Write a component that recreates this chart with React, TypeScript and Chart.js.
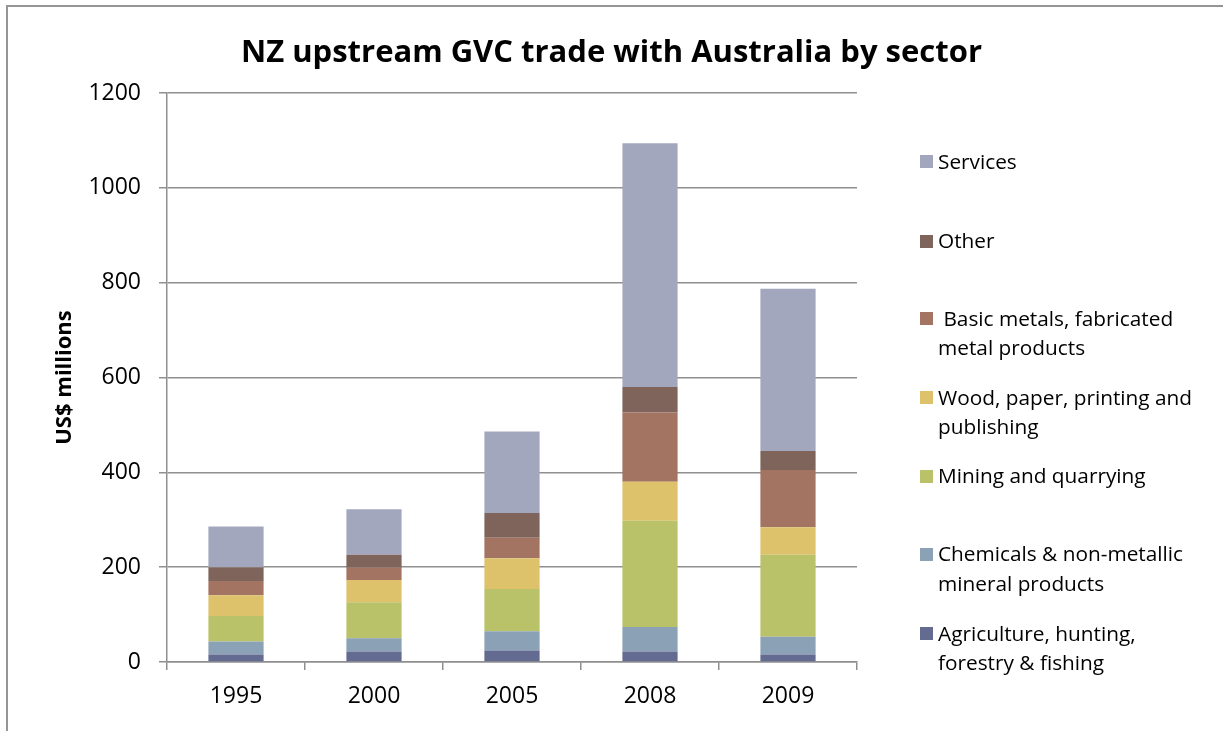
import React, { useEffect, useRef } from "react";
import { Chart, registerables } from "chart.js";

Chart.register(...registerables);

const years = ["1995", "2000", "2005", "2008", "2009"];

const agriculture = [16, 22, 24, 22, 16];
const chemicals = [27, 28, 41, 52, 37];
const mining = [54, 76, 89, 224, 173];
const wood = [44, 47, 65, 82, 58];
const metals = [30, 26, 43, 146, 121];
const other = [29, 27, 52, 54, 40];
const services = [86, 96, 172, 514, 342];

const seriesNames = [
  "Agriculture, hunting, forestry & fishing",
  "Chemicals & non-metallic mineral products",
  "Mining and quarrying",
  "Wood, paper, printing and publishing",
  " Basic metals, fabricated metal products",
  "Other",
  "Services",
];
const seriesValues = [agriculture, chemicals, mining, wood, metals, other, services];
const seriesColors = ["#636b90", "#8ba2b6", "#b9c169", "#dec26b", "#a37462", "#7e645a", "#a3a7be"];

const yTicks = [0, 200, 400, 600, 800, 1000, 1200];

// legend layout (top to bottom), lines of text per item
const legendItems = [
  { idx: 6, lines: ["Services"], y: 161.5 },
  { idx: 5, lines: ["Other"], y: 241 },
  { idx: 4, lines: ["\u00a0Basic metals, fabricated", "metal products"], y: 318.5 },
  { idx: 3, lines: ["Wood, paper, printing and", "publishing"], y: 397.5 },
  { idx: 2, lines: ["Mining and quarrying"], y: 476 },
  { idx: 1, lines: ["Chemicals & non-metallic", "mineral products"], y: 554 },
  { idx: 0, lines: ["Agriculture, hunting,", "forestry & fishing"], y: 633.5 },
];

const FONT = "'Open Sans', 'DejaVu Sans', sans-serif";

export default function App() {
  const canvasRef = useRef<HTMLCanvasElement | null>(null);

  useEffect(() => {
    const canvas = canvasRef.current;
    if (!canvas) return;
    const chart = new Chart(canvas, {
      type: "bar",
      data: {
        labels: years,
        datasets: seriesValues.map((vals, i) => ({
          label: seriesNames[i],
          data: vals,
          backgroundColor: seriesColors[i],
          borderWidth: 0,
          barPercentage: 0.4,
          categoryPercentage: 1,
        })),
      },
      options: {
        responsive: false,
        animation: false,
        layout: { padding: { left: 0, right: 0, top: 0, bottom: 0 } },
        plugins: {
          legend: { display: false },
          tooltip: { enabled: false },
          title: {
            display: true,
            text: "NZ upstream GVC trade with Australia by sector",
            color: "#000",
            font: { family: FONT, size: 31, weight: "bold", lineHeight: 1.2 },
            padding: { top: 34.5, bottom: 21.3 },
          },
        },
        scales: {
          x: {
            stacked: true,
            afterFit: (s: any) => {
              s.height = 69;
            },
            grid: {
              display: true,
              drawOnChartArea: false,
              drawTicks: true,
              tickLength: 8,
              offset: true,
              color: "#8f8f8f",
              lineWidth: 1.5,
            },
            border: { display: true, color: "#8f8f8f", width: 1.5 },
            ticks: {
              color: "#000",
              font: { family: FONT, size: 23 },
              padding: 13,
              maxRotation: 0,
            },
          },
          y: {
            stacked: true,
            min: 0,
            max: 1200,
            afterFit: (s: any) => {
              s.width = 167;
            },
            afterBuildTicks: (s: any) => {
              s.ticks = yTicks.map((v) => ({ value: v }));
            },
            grid: {
              color: "#8f8f8f",
              lineWidth: 1.5,
              drawTicks: true,
              tickLength: 8,
            },
            border: { display: true, color: "#8f8f8f", width: 1.5 },
            ticks: {
              color: "#000",
              font: { family: FONT, size: 23 },
              padding: 18,
              callback: (v: any) => String(v),
            },
            title: {
              display: true,
              text: "US$ millions",
              color: "#000",
              font: { family: FONT, size: 22, weight: "bold", lineHeight: 1.2 },
              padding: { top: 52, bottom: 0 },
            },
          },
          legendSpace: {
            type: "linear",
            position: "right",
            display: true,
            afterFit: (s: any) => {
              s.width = 366;
            },
            grid: { display: false, drawTicks: false },
            border: { display: false },
            ticks: { display: false },
          },
        },
      },
    });
    return () => chart.destroy();
  }, []);

  return (
    <div
      style={{
        position: "fixed",
        left: 0,
        top: 0,
        width: 1223,
        height: 731,
        overflow: "hidden",
        background: "#fff",
      }}
    >
      <div
        style={{
          position: "absolute",
          left: 6,
          top: 5,
          width: 1400,
          height: 900,
          border: "2px solid #959595",
          boxSizing: "border-box",
        }}
      />
      <canvas
        ref={canvasRef}
        width={1223}
        height={731}
        style={{ position: "absolute", left: 0, top: 0, width: 1223, height: 731 }}
      />
      {legendItems.map((it) => (
        <React.Fragment key={it.idx}>
          <div
            style={{
              position: "absolute",
              left: 920,
              top: it.y - 6.5,
              width: 13,
              height: 13,
              background: seriesColors[it.idx],
            }}
          />
          <div
            style={{
              position: "absolute",
              left: 938,
              top: it.y - 14.75,
              fontFamily: FONT,
              fontSize: 20.8,
              lineHeight: "29.5px",
              color: "#000",
              whiteSpace: "nowrap",
            }}
          >
            {it.lines.map((l, k) => (
              <div key={k}>{l}</div>
            ))}
          </div>
        </React.Fragment>
      ))}
    </div>
  );
}
